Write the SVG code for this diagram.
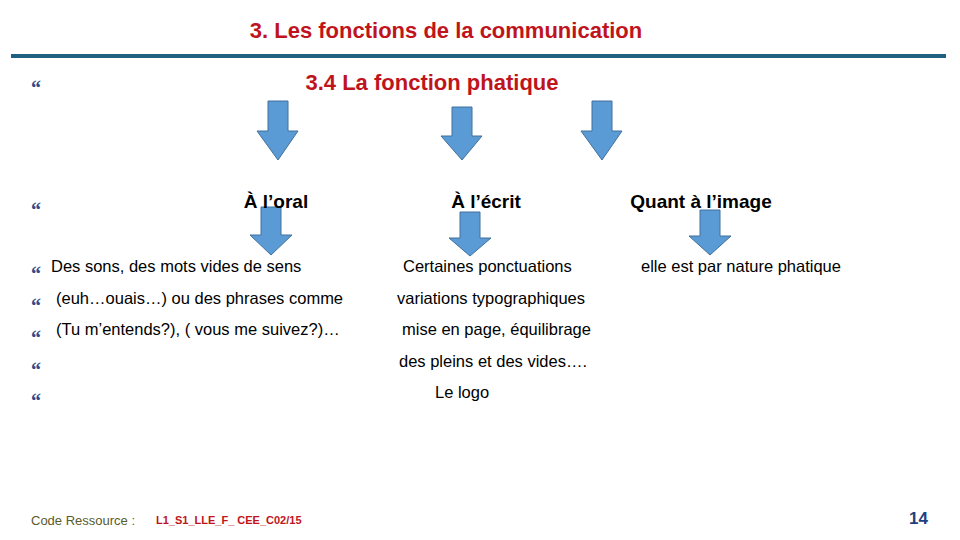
<svg xmlns="http://www.w3.org/2000/svg" width="960" height="540" viewBox="0 0 960 540">
<style>
.t{font-family:"Liberation Sans",Arial,sans-serif;}
.red{fill:#c0141c;font-weight:bold;font-size:22px}
.h{fill:#000;font-weight:bold;font-size:19px}
.b{fill:#000;font-size:16.5px}
.q{fill:#2e4a8a;font-weight:bold;font-size:20px;font-family:"Liberation Serif",serif}
.ar{fill:#5b9bd5;stroke:#41719c;stroke-width:1}
</style>
<rect width="960" height="540" fill="#fff"/>
<text class="t red" x="446" y="38" text-anchor="middle">3. Les fonctions de la communication</text>
<rect x="11" y="54" width="935" height="4" fill="#1f5f7f"/>
<g id="bullets">
<text class="q" x="31" y="95">“</text>
<text class="q" x="31" y="217">“</text>
<text class="q" x="31" y="281">“</text>
<text class="q" x="31" y="313">“</text>
<text class="q" x="31" y="345">“</text>
<text class="q" x="31" y="377">“</text>
<text class="q" x="31" y="408">“</text>
</g>
<g id="title"><text class="t red" x="432" y="90" text-anchor="middle">3.4 La fonction phatique</text></g>
<g id="connectors">
<path class="ar" d="M268,101 H288 V131 H298 L278,160 L257,131 H268 Z"/>
<path class="ar" d="M452,107 H472 V136 H482 L462,160 L441,136 H452 Z"/>
<path class="ar" d="M592,101 H612 V131 H622 L602,160 L581,131 H592 Z"/>
<path class="ar" d="M261,207 H281 V235 H292 L271,255 L250,235 H261 Z"/>
<path class="ar" d="M460,212 H480 V238 H491 L470,256 L449,238 H460 Z"/>
<path class="ar" d="M700,210 H720 V236 H731 L710,255 L689,236 H700 Z"/>
</g>
<g id="oral"><text class="t h" x="276" y="208" text-anchor="middle">À l’oral</text></g>
<g id="ecrit"><text class="t h" x="486" y="208" text-anchor="middle">À l’écrit</text></g>
<g id="image"><text class="t h" x="701" y="208" text-anchor="middle">Quant à l’image</text></g>
<g id="oral-text">
<text class="t b" x="51" y="272">Des sons, des mots vides de sens</text>
<text class="t b" x="56" y="304">(euh…ouais…) ou des phrases comme</text>
<text class="t b" x="56" y="335">(Tu m’entends?), ( vous me suivez?)…</text>
</g>
<g id="ecrit-text">
<text class="t b" x="403" y="272">Certaines ponctuations</text>
<text class="t b" x="397" y="304">variations typographiques</text>
<text class="t b" x="402" y="335">mise en page, équilibrage</text>
<text class="t b" x="399" y="367">des pleins  et des vides….</text>
<text class="t b" x="435" y="398">Le logo</text>
</g>
<g id="image-text"><text class="t b" x="641" y="272">elle est par nature phatique</text></g>
<text class="t" x="31" y="525" font-size="13" fill="#5a5a2a">Code Ressource :</text>
<text class="t" x="156" y="524" font-size="11" font-weight="bold" fill="#c0141c">L1_S1_LLE_F_ CEE_C02/15</text>
<text class="t" x="928" y="524" font-size="17" font-weight="bold" fill="#1f3f7f" text-anchor="end">14</text>
</svg>
